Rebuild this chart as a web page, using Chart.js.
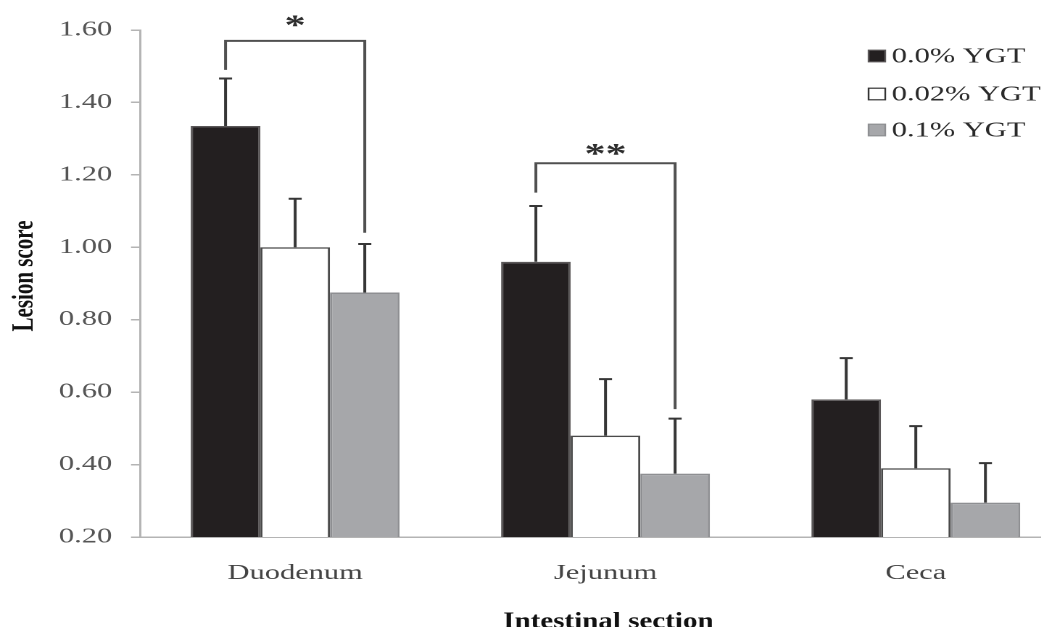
<!DOCTYPE html>
<html>
<head>
<meta charset="utf-8">
<script src="https://cdn.jsdelivr.net/npm/chart.js@4.4.1/dist/chart.umd.min.js"></script>
<style>
  html, body { margin: 0; padding: 0; background: #fff; overflow: hidden; width: 1041px; height: 627px; }
  /* the figure is set in a wide, horizontally stretched aspect */
  #wrap { position: absolute; left: 0; top: 0; width: 740px; height: 627px;
          transform: scaleX(1.45); transform-origin: 0 0; }
</style>
</head>
<body>
<div id="wrap"><canvas id="c"></canvas></div>
<script>
// Lesion scores by intestinal section and YGT level (mean with SE)
const categories = ['Duodenum', 'Jejunum', 'Ceca'];
const seriesNames = ['0.0% YGT', '0.02% YGT', '0.1% YGT'];
const ygt00  = [1.335, 0.960, 0.580];
const ygt002 = [1.000, 0.480, 0.390];
const ygt01  = [0.875, 0.375, 0.295];
const err00  = [0.131, 0.154, 0.114];
const err002 = [0.134, 0.156, 0.116];
const err01  = [0.134, 0.152, 0.109];
const yTicks = [0.20, 0.40, 0.60, 0.80, 1.00, 1.20, 1.40, 1.60];

// significance brackets: category, bracket level, leg ends, label
const sigCategory = [0, 1];
const sigLevel    = [1.570, 1.232];
const sigLeftEnd  = [1.490, 1.151];
const sigRightEnd = [1.040, 0.553];
const sigLabels   = ['*', '**'];

const seriesValues = [ygt00, ygt002, ygt01];
const seriesErrors = [err00, err002, err01];

const SERIF = "'Liberation Serif', 'Times New Roman', serif";
const fills   = ['#231f20', '#ffffff', '#a6a7aa'];
const borders = ['#5a5758', '#4a4a4a', '#8e8f92'];
const AXIS = '#b4b4b4';

const errorBars = {
  id: 'errorBars',
  afterDatasetsDraw(chart) {
    const ctx = chart.ctx, y = chart.scales.y;
    ctx.save();
    ctx.strokeStyle = '#363636';
    ctx.lineWidth = 2;
    seriesValues.forEach((vals, i) => {
      const meta = chart.getDatasetMeta(i);
      meta.data.forEach((bar, j) => {
        const top = y.getPixelForValue(vals[j] + seriesErrors[i][j]);
        ctx.beginPath();
        ctx.moveTo(bar.x, bar.y);
        ctx.lineTo(bar.x, top);
        ctx.moveTo(bar.x - 4.5, top);
        ctx.lineTo(bar.x + 4.5, top);
        ctx.stroke();
      });
    });
    ctx.restore();
  }
};

const sigTextLift = [20, 14];
const brackets = {
  id: 'brackets',
  afterDatasetsDraw(chart) {
    const ctx = chart.ctx, y = chart.scales.y;
    ctx.save();
    ctx.strokeStyle = '#505050';
    ctx.lineWidth = 2;
    sigCategory.forEach((cat, k) => {
      const xl = chart.getDatasetMeta(0).data[cat].x;
      const xr = chart.getDatasetMeta(2).data[cat].x;
      const yl = y.getPixelForValue(sigLevel[k]);
      ctx.beginPath();
      ctx.moveTo(xl, y.getPixelForValue(sigLeftEnd[k]));
      ctx.lineTo(xl, yl);
      ctx.lineTo(xr, yl);
      ctx.lineTo(xr, y.getPixelForValue(sigRightEnd[k]));
      ctx.stroke();
      ctx.fillStyle = '#2e2e2e';
      ctx.font = 'bold 29px ' + SERIF;
      ctx.textAlign = 'center';
      ctx.textBaseline = 'middle';
      ctx.fillText(sigLabels[k], (xl + xr) / 2, yl - sigTextLift[k] + 6);
    });
    ctx.restore();
  }
};

const legendAndTitles = {
  id: 'legendAndTitles',
  afterDraw(chart) {
    const ctx = chart.ctx;
    ctx.save();
    // legend
    const rowY = [56, 94, 130];
    seriesNames.forEach((name, i) => {
      const cy = rowY[i];
      ctx.fillStyle = fills[i];
      ctx.fillRect(599, cy - 5.8, 11.5, 11.6);
      ctx.strokeStyle = i === 1 ? '#333' : borders[i];
      ctx.lineWidth = 1.2;
      ctx.strokeRect(599, cy - 5.8, 11.5, 11.6);
      ctx.fillStyle = '#2a2a2a';
      ctx.font = '21px ' + SERIF;
      ctx.textAlign = 'left';
      ctx.textBaseline = 'middle';
      ctx.fillText(name, 615, cy + 1);
    });
    // axis titles
    ctx.fillStyle = '#111';
    ctx.font = 'bold 21px ' + SERIF;
    ctx.textAlign = 'center';
    ctx.textBaseline = 'alphabetic';
    ctx.save();
    ctx.translate(22.5, 276);
    ctx.rotate(-Math.PI / 2);
    ctx.fillText('Lesion score', 0, 0);
    ctx.restore();
    ctx.save();
    ctx.translate(chart.scales.x.getPixelForValue(1) + 2, 628);
    ctx.scale(0.87, 1);
    ctx.font = 'bold 23px ' + SERIF;
    ctx.fillText('Intestinal section', 0, 0);
    ctx.restore();
    ctx.restore();
  }
};

new Chart(document.getElementById('c'), {
  type: 'bar',
  data: {
    labels: categories,
    datasets: seriesNames.map((name, i) => ({
      label: name,
      data: seriesValues[i],
      backgroundColor: fills[i],
      borderColor: borders[i],
      borderWidth: 1.5,
      borderSkipped: false,
      categoryPercentage: 0.673,
      barPercentage: 1.0
    }))
  },
  options: {
    responsive: true,
    maintainAspectRatio: false,
    animation: false,
    devicePixelRatio: 2,
    layout: { padding: { left: 0, top: 30, right: 1.4, bottom: 0 } },
    plugins: { legend: { display: false }, tooltip: { enabled: false } },
    scales: {
      x: {
        afterFit(s) { s.height = 90; },
        grid: { display: false, drawTicks: false },
        border: { display: true, color: AXIS, width: 1.5 },
        ticks: { color: '#444', padding: 24, font: { family: SERIF, size: 21 } }
      },
      y: {
        min: 0.2,
        max: 1.6,
        afterFit(s) { s.width = 96.55; },
        afterBuildTicks(s) { s.ticks = yTicks.map(v => ({ value: v })); },
        grid: { drawOnChartArea: false, drawTicks: true, tickLength: 6.2, color: AXIS, lineWidth: 1.5 },
        border: { display: true, color: AXIS, width: 1.5 },
        ticks: {
          color: '#555',
          padding: 13,
          font: { family: SERIF, size: 21 },
          callback: v => Number(v).toFixed(2)
        }
      }
    }
  },
  plugins: [errorBars, brackets, legendAndTitles]
});
</script>
</body>
</html>
